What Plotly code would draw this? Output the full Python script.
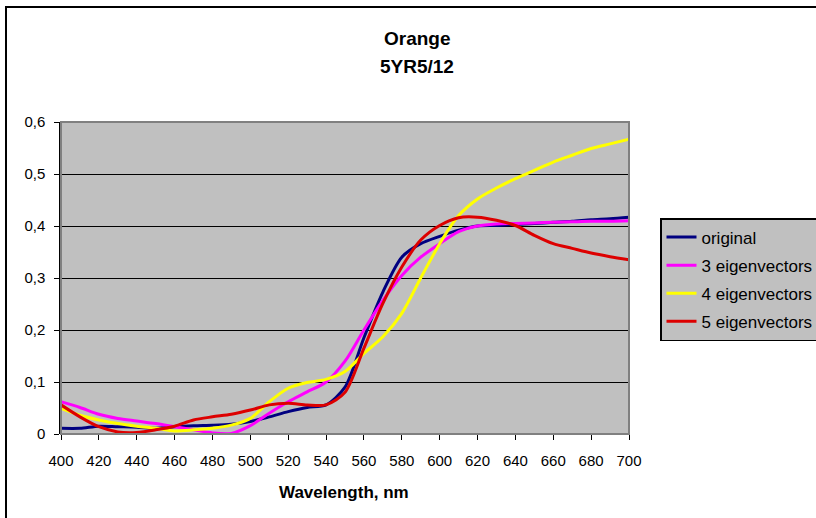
import plotly.graph_objects as go

# Reflectance spectra for Munsell 5YR5/12 (orange) and its reconstructions
wavelength = list(range(400, 701, 10))

original = [0.011, 0.011, 0.015, 0.014, 0.013, 0.011, 0.014, 0.016, 0.017, 0.019,
            0.024, 0.033, 0.043, 0.051, 0.056, 0.090, 0.185, 0.273, 0.340, 0.366,
            0.380, 0.392, 0.400, 0.401, 0.403, 0.405, 0.407, 0.409, 0.412, 0.414, 0.417]

eig3 = [0.062, 0.051, 0.038, 0.030, 0.025, 0.020, 0.014, 0.008, 0.002, 0.001,
        0.016, 0.040, 0.062, 0.081, 0.100, 0.140, 0.200, 0.257, 0.305, 0.340,
        0.366, 0.389, 0.400, 0.404, 0.405, 0.406, 0.407, 0.408, 0.409, 0.409, 0.410]

eig4 = [0.049, 0.036, 0.027, 0.020, 0.015, 0.011, 0.006, 0.008, 0.011, 0.017,
        0.030, 0.062, 0.088, 0.099, 0.105, 0.120, 0.155, 0.187, 0.232, 0.300,
        0.366, 0.420, 0.452, 0.473, 0.491, 0.507, 0.523, 0.536, 0.549, 0.558, 0.567]

eig5 = [0.056, 0.033, 0.014, 0.004, 0.003, 0.008, 0.015, 0.027, 0.033, 0.038,
        0.046, 0.056, 0.059, 0.056, 0.056, 0.080, 0.165, 0.251, 0.321, 0.373,
        0.401, 0.416, 0.417, 0.411, 0.401, 0.382, 0.366, 0.357, 0.348, 0.341, 0.335]

series_names = ["original", "3 eigenvectors", "4 eigenvectors", "5 eigenvectors"]
series_values = [original, eig3, eig4, eig5]
series_colors = ["#000080", "#FF00FF", "#FFFF00", "#DD0000"]

y_ticks = [0, 0.1, 0.2, 0.3, 0.4, 0.5, 0.6]
y_tick_text = ["0", "0,1", "0,2", "0,3", "0,4", "0,5", "0,6"]

FONT = "Liberation Sans, Arial, sans-serif"
W, H = 816, 518
L, R, T, B = 61, 629, 122, 434          # plot area edges in pixels

fig = go.Figure()
for i, (name, vals, col) in enumerate(zip(series_names, series_values, series_colors)):
    fig.add_trace(go.Scatter(
        x=wavelength, y=vals, name=name, mode="lines",
        line=dict(color=col, width=3, shape="spline", smoothing=0.8),
        legendgroup=f"g{i}",
    ))


def px_x(p):
    return (p - L) / (R - L)


def px_y(p):
    return (B - p) / (B - T)


shapes = [
    # gray frame around the plot area
    dict(type="rect", xref="paper", yref="paper", x0=0, x1=1, y0=0, y1=1,
         line=dict(color="#808080", width=2), fillcolor="rgba(0,0,0,0)", layer="above"),
    # chart border
    dict(type="rect", xref="paper", yref="paper",
         x0=px_x(6), x1=px_x(840), y0=px_y(540), y1=px_y(7),
         line=dict(color="#000000", width=2), fillcolor="rgba(0,0,0,0)"),
]

annotations = [
    dict(text="<b>Orange</b>", x=px_x(417), y=px_y(38), xref="paper", yref="paper",
         showarrow=False, xanchor="center", yanchor="middle",
         font=dict(family=FONT, size=19, color="#000")),
    dict(text="<b>5YR5/12</b>", x=px_x(417), y=px_y(66), xref="paper", yref="paper",
         showarrow=False, xanchor="center", yanchor="middle",
         font=dict(family=FONT, size=19, color="#000")),
    dict(text="<b>Wavelength, nm</b>", x=px_x(344), y=px_y(492), xref="paper", yref="paper",
         showarrow=False, xanchor="center", yanchor="middle",
         font=dict(family=FONT, size=17, color="#000")),
]

fig.update_layout(
    width=W, height=H,
    margin=dict(l=L, r=W - R, t=T, b=H - B, pad=0, autoexpand=False),
    paper_bgcolor="#FFFFFF",
    plot_bgcolor="#C0C0C0",
    font=dict(family=FONT, size=15, color="#000"),
    shapes=shapes,
    annotations=annotations,
    showlegend=True,
    legend=dict(
        x=px_x(660), y=px_y(218), xanchor="left", yanchor="top",
        bgcolor="#C0C0C0", bordercolor="#000000", borderwidth=1.5,
        font=dict(family=FONT, size=17, color="#000"),
        tracegroupgap=3, itemwidth=30,
    ),
    xaxis=dict(
        range=[400, 700], tick0=400, dtick=20, showgrid=False, zeroline=False,
        ticks="outside", ticklen=5, tickcolor="#000", tickwidth=1,
        showline=False, ticklabelstandoff=8,
        tickfont=dict(family=FONT, size=15),
    ),
    yaxis=dict(
        range=[0, 0.6], tickvals=y_ticks, ticktext=y_tick_text,
        showgrid=True, gridcolor="#000000", gridwidth=1.2, zeroline=False,
        ticks="outside", ticklen=5, tickcolor="#000", tickwidth=1,
        showline=True, linecolor="#000", linewidth=1.5, ticklabelstandoff=6,
        tickfont=dict(family=FONT, size=15),
    ),
)

fig.write_html("out.html")
